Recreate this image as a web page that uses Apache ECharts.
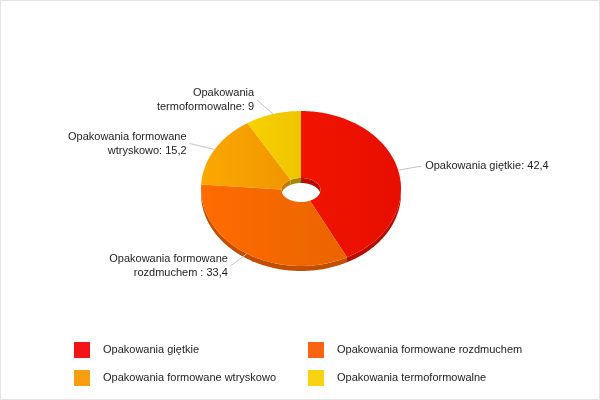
<!DOCTYPE html>
<html><head><meta charset="utf-8">
<script src="https://cdn.jsdelivr.net/npm/echarts@6.0.0/dist/echarts.min.js"></script>
<style>html,body{margin:0;padding:0;background:#fff}#c{width:600px;height:400px;box-sizing:border-box;border:1px solid #e4e4e4}</style>
</head><body><div id="c"></div><script>
// ---- data ----
const categories = ['Opakowania giętkie', 'Opakowania formowane rozdmuchem', 'Opakowania formowane wtryskowo', 'Opakowania termoformowalne'];
const values = [42.4, 33.4, 15.2, 9];
const labelNames = ['Opakowania giętkie', 'Opakowania formowane\nrozdmuchem ', 'Opakowania formowane\nwtryskowo', 'Opakowania\ntermoformowalne'];

// ---- style ----
const topColors = [['#f01400', '#e80e00'], ['#ff6c00', '#ea6400'], ['#fca800', '#f09600'], ['#f8d200', '#efc400']];
const sideColors = ['#b80c00', '#c24e00', '#c47a00', '#a48a00'];
const legendColors = ['#f31515', '#fa6410', '#fa9e10', '#fad310'];
const labelOffsets = [[23, -4], [-16, 12], [-25, -6], [-16, -14]];
const G = {cx: 300, cy: 187.5, rx: 100, ry: 77.5, hcy: 189, hrx: 19.5, hry: 12, depth: 5};
const FONT = "'Liberation Sans', Arial, sans-serif";

const total = values.reduce((a, b) => a + b, 0);
const starts = [];
{ let acc = 0; values.forEach(v => { starts.push(acc / total * Math.PI * 2); acc += v; }); }

function pt(t, a, b, cy) { return [G.cx + a * Math.sin(t), cy - b * Math.cos(t)]; }
function arc(t0, t1, a, b, cy) {
  const n = Math.max(2, Math.ceil(Math.abs(t1 - t0) / 0.02));
  const out = [];
  for (let k = 0; k <= n; k++) out.push(pt(t0 + (t1 - t0) * k / n, a, b, cy));
  return out;
}
function fmt(v) { return String(v).replace('.', ','); }

function makeRender(i) {
  return function (params, api) {
    const v = api.value(0);
    const s = starts[i], e = s + v / total * Math.PI * 2;
    const ch = [];
    const o0 = Math.max(s, Math.PI / 2), o1 = Math.min(e, Math.PI * 1.5);
    if (o1 > o0) {
      ch.push({type: 'polygon', z2: 1, shape: {points: arc(o0, o1, G.rx, G.ry, G.cy).concat(arc(o1, o0, G.rx, G.ry, G.cy + G.depth))}, style: {fill: sideColors[i]}});
    }
    [[0, Math.PI / 2], [Math.PI * 1.5, Math.PI * 2]].forEach(r => {
      const a0 = Math.max(s, r[0]), a1 = Math.min(e, r[1]);
      if (a1 > a0) {
        ch.push({type: 'polygon', z2: 2, shape: {points: arc(a0, a1, G.hrx, G.hry, G.hcy).concat(arc(a1, a0, G.hrx, G.hry, G.hcy + G.depth))}, style: {fill: sideColors[i]}});
      }
    });
    ch.push({type: 'polygon', z2: 3, shape: {points: arc(s, e, G.rx, G.ry, G.cy).concat(arc(e, s, G.hrx, G.hry, G.hcy))},
      style: {fill: {type: 'linear', x: 0, y: 0, x2: 1, y2: 0, colorStops: [{offset: 0, color: topColors[i][0]}, {offset: 1, color: topColors[i][1]}]}}});
    const m = (s + e) / 2;
    const p0 = pt(m, G.rx, G.ry, G.cy);
    const p1 = [p0[0] + labelOffsets[i][0], p0[1] + labelOffsets[i][1]];
    ch.push({type: 'polyline', z2: 4, shape: {points: [p0, p1]}, style: {stroke: '#c4c4c4', lineWidth: 1, fill: null}});
    const right = Math.sin(m) > 0;
    ch.push({type: 'text', z2: 5, x: right ? p1[0] + 4 : p1[0] - 3, y: p1[1],
      style: {text: labelNames[i] + ': ' + fmt(v), fill: '#1e1e1e', font: '11px ' + FONT, lineHeight: 14,
        align: right ? 'left' : 'right', verticalAlign: 'middle'}});
    return {type: 'group', children: ch};
  };
}

const series = categories.map((c, i) => ({
  type: 'custom', name: c, coordinateSystem: 'none', silent: true,
  itemStyle: {color: legendColors[i]},
  data: [[values[i]]], renderItem: makeRender(i)
}));

const legendBase = {orient: 'vertical', icon: 'rect', itemWidth: 16, itemHeight: 16, itemGap: 12,
  textStyle: {fontSize: 11, color: '#222', fontFamily: FONT, padding: [0, 0, 0, 8]}, selectedMode: false};

const chart = echarts.init(document.getElementById('c'), null, {renderer: 'canvas'});
chart.setOption({
  animation: false,
  backgroundColor: '#fff',
  legend: [
    Object.assign({}, legendBase, {left: 68, top: 336, data: [categories[0], categories[2]].map(n => ({name: n, itemStyle: {color: legendColors[categories.indexOf(n)]}}))}),
    Object.assign({}, legendBase, {left: 302, top: 336, data: [categories[1], categories[3]].map(n => ({name: n, itemStyle: {color: legendColors[categories.indexOf(n)]}}))})
  ],
  series: series
});
</script></body></html>
